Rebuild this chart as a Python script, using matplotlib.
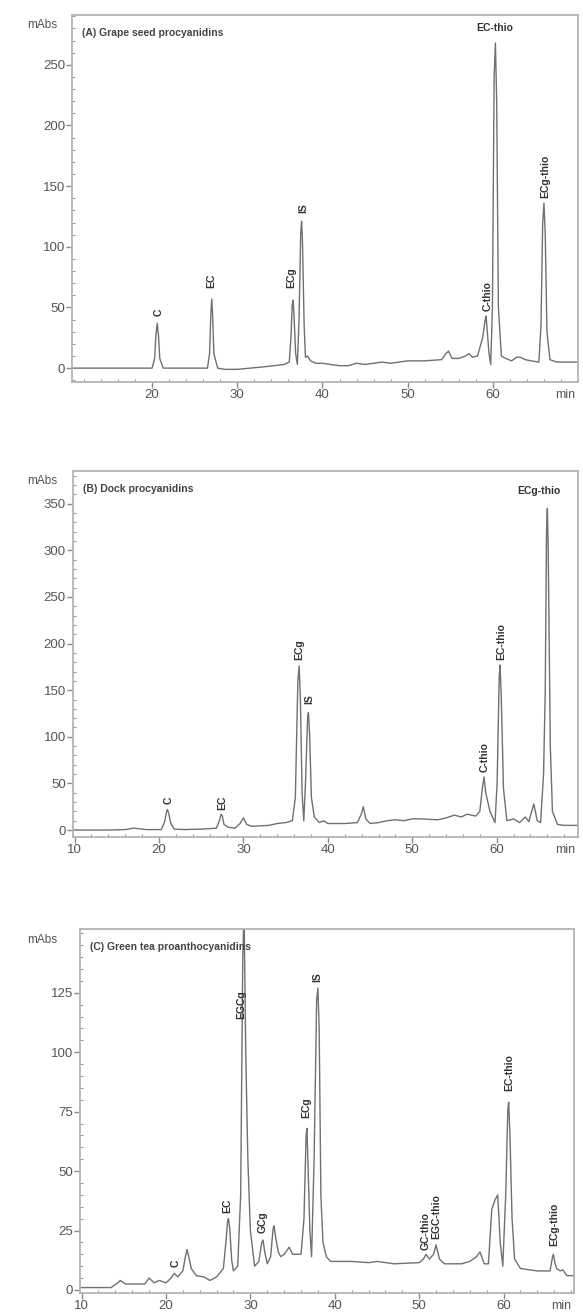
import matplotlib
matplotlib.use("Agg")
import matplotlib.pyplot as plt
from matplotlib.ticker import MultipleLocator

plt.rcParams['font.family'] = ['Liberation Sans', 'DejaVu Sans']

# ------------------------------
# chromatogram traces: (time in min, mAbs)
trace_a = [(10.6, 0), (14, 0), (18, 0), (20.0, 0), (20.3, 8), (20.45, 27), (20.6, 37), (20.75, 27),
           (20.9, 8), (21.3, 0), (23, 0), (26.5, 0), (26.75, 12), (26.9, 45), (27.0, 57), (27.1, 45),
           (27.25, 12), (27.7, 0), (28.5, -1), (30, -1), (33, 1), (35.5, 3), (36.1, 5), (36.3, 25),
           (36.45, 52), (36.55, 56), (36.65, 45), (36.85, 12), (37.05, 3), (37.25, 40), (37.45, 112),
           (37.55, 121), (37.65, 105), (37.85, 35), (38.0, 9), (38.25, 10), (38.6, 6), (39.2, 4),
           (40, 4), (41, 3), (42, 2), (43, 2), (44, 4), (45, 3), (46, 4), (47, 5), (48, 4), (50, 6),
           (52, 6), (54, 7), (54.5, 12), (54.8, 14), (55.2, 8), (56, 8), (56.8, 10), (57.2, 12),
           (57.6, 9), (58.2, 10), (58.8, 25), (59.1, 40), (59.2, 43), (59.35, 30), (59.55, 12),
           (59.75, 3), (59.95, 50), (60.15, 240), (60.3, 268), (60.45, 220), (60.65, 50), (61.0, 10),
           (61.5, 8), (62.2, 6), (62.8, 9), (63.2, 9), (63.8, 7), (64.5, 6), (65.4, 5), (65.65, 35),
           (65.85, 120), (66.0, 136), (66.15, 110), (66.35, 30), (66.7, 7), (67.5, 5), (70, 5)]

trace_b = [(9.8, 0), (14, 0), (16, 0.5), (17, 2), (18.5, 0.5), (20.3, 0.5), (20.7, 10), (20.9, 20),
           (21.0, 22), (21.15, 18), (21.4, 7), (21.8, 1), (23, 0.5), (25, 1), (26.8, 2), (27.15, 10),
           (27.35, 17), (27.5, 15), (27.7, 6), (28.2, 3), (29, 2), (29.6, 7), (30.0, 13), (30.4, 6),
           (31, 4), (33, 5), (34, 7), (35, 8), (35.8, 10), (36.15, 35), (36.45, 160), (36.6, 176),
           (36.75, 140), (36.95, 40), (37.15, 10), (37.35, 50), (37.6, 120), (37.7, 126),
           (37.85, 100), (38.05, 35), (38.4, 14), (39, 8), (39.5, 10), (40, 7), (42, 7), (43.5, 8),
           (44.0, 18), (44.2, 25), (44.5, 12), (45, 7), (46, 8), (47, 10), (48, 11), (49, 10),
           (50, 12), (51, 12), (53, 11), (54, 13), (55, 16), (55.8, 14), (56.5, 17), (57.5, 15),
           (58.0, 20), (58.3, 45), (58.5, 57), (58.7, 40), (59.2, 20), (59.8, 8), (60.05, 50),
           (60.3, 165), (60.4, 177), (60.55, 140), (60.8, 45), (61.2, 10), (62, 12), (62.7, 8),
           (63.4, 14), (63.8, 9), (64.4, 28), (64.8, 10), (65.2, 8), (65.55, 60), (65.75, 150),
           (65.9, 320), (66.0, 345), (66.1, 300), (66.35, 90), (66.6, 20), (67.2, 6), (68, 5),
           (69.6, 5)]

trace_c = [(9.8, 1), (13.5, 1), (14.3, 3), (14.6, 4), (15.2, 2.5), (16, 2.5), (17.5, 2.5), (18, 5),
           (18.6, 3), (19.2, 4), (20, 3), (20.6, 5), (21.0, 7), (21.4, 5.5), (22.0, 8), (22.3, 14),
           (22.5, 17), (22.7, 14), (23.0, 9), (23.6, 6), (24.5, 5.5), (25.2, 4), (26, 5.5), (26.8, 9),
           (27.1, 20), (27.3, 29), (27.4, 30), (27.55, 26), (27.8, 12), (28.0, 8), (28.5, 10),
           (28.85, 40), (29.1, 140), (29.25, 160), (29.45, 100), (29.7, 55), (30.0, 25), (30.5, 10),
           (31.0, 12), (31.35, 20), (31.5, 21), (31.7, 16), (32.0, 11), (32.4, 14), (32.7, 26),
           (32.8, 27), (33.0, 22), (33.3, 16), (33.6, 14), (34.0, 15), (34.6, 18), (35.0, 15),
           (36.0, 15), (36.35, 30), (36.6, 65), (36.7, 68), (36.85, 50), (37.05, 25), (37.25, 14),
           (37.55, 55), (37.85, 122), (38.0, 127), (38.15, 110), (38.35, 40), (38.6, 20), (39.0, 14),
           (39.5, 12), (42, 12), (44, 11.5), (45, 12), (47, 11), (50, 11.5), (50.5, 13), (50.8, 15),
           (51.2, 13), (51.7, 15), (52.0, 19), (52.4, 13), (53, 11), (55, 11), (56, 12), (56.8, 14),
           (57.2, 16), (57.7, 11), (58.2, 11), (58.6, 34), (59.0, 38), (59.3, 40), (59.6, 20),
           (59.9, 10), (60.25, 40), (60.5, 76), (60.6, 79), (60.75, 65), (61.0, 30), (61.3, 13),
           (62, 9), (64, 8), (65.5, 8), (65.8, 14), (65.9, 15), (66.1, 11), (66.3, 9), (66.7, 8),
           (67.0, 8.5), (67.5, 6), (68.3, 6)]

# peak labels: (name, time, y of label foot, rotated)
labels_a = [("C", 20.8, 43, True), ("EC", 27.0, 66, True), ("ECg", 36.3, 66, True),
            ("IS", 37.7, 128, True), ("C-thio", 59.4, 47, True), ("EC-thio", 60.2, 280, False),
            ("ECg-thio", 66.1, 140, True)]
labels_b = [("C", 21.2, 28, True), ("EC", 27.5, 21, True), ("ECg", 36.6, 182, True),
            ("IS", 37.8, 135, True), ("C-thio", 58.6, 62, True), ("EC-thio", 60.5, 182, True),
            ("ECg-thio", 65.0, 364, False)]
labels_c = [("C", 21.2, 9.5, True), ("EC", 27.3, 32.5, True), ("EGCg", 28.9, 114, True),
            ("GCg", 31.4, 24, True), ("ECg", 36.6, 72.5, True), ("IS", 37.9, 129.5, True),
            ("GC-thio", 50.8, 17, True), ("EGC-thio", 52.0, 21.5, True), ("EC-thio", 60.7, 83.5, True),
            ("ECg-thio", 66.0, 18.5, True)]

titles = ["(A) Grape seed procyanidins", "(B) Dock procyanidins", "(C) Green tea proanthocyanidins"]
xticks_a = [20, 30, 40, 50, 60]
xticks_bc = [10, 20, 30, 40, 50, 60]
yticks_a = [0, 50, 100, 150, 200, 250]
yticks_b = [0, 50, 100, 150, 200, 250, 300, 350]
yticks_c = [0, 25, 50, 75, 100, 125]

# ------------------------------
def draw_panel(ax, trace, labels, title, xlim, ylim, xticks, yticks, yminor, mabs_x):
    t = [p[0] for p in trace]
    v = [p[1] for p in trace]
    ax.plot(t, v, color='#707070', lw=1.0)
    ax.set_xlim(*xlim)
    ax.set_ylim(*ylim)
    ax.set_xticks(xticks)
    ax.set_yticks(yticks)
    ax.xaxis.set_minor_locator(MultipleLocator(2))
    ax.yaxis.set_minor_locator(MultipleLocator(yminor))
    for s in ax.spines.values():
        s.set_color('#b4b4b4')
        s.set_linewidth(1.3)
    ax.tick_params(which='major', direction='out', length=4, width=1, color='#8a8a8a',
                   labelsize=9.5, labelcolor='#555555', pad=1)
    ax.tick_params(which='minor', direction='in', length=2, width=0.8, color='#9a9a9a')
    ax.text(0.02, 0.965, title, transform=ax.transAxes, fontsize=7.5, fontweight='bold',
            color='#444444', va='top', ha='left')
    ax.text(mabs_x, 0.972, "mAbs", transform=ax.transAxes, fontsize=8.5, color='#555555',
            va='center', ha='right')
    ax.annotate("min", xy=(0.975, 0), xycoords='axes fraction', xytext=(0, -5),
                textcoords='offset points', fontsize=9, color='#555555', va='top', ha='center')
    for name, x, y, rot in labels:
        if rot:
            ax.text(x, y, name, rotation=90, fontsize=7.5, fontweight='bold', color='#333333',
                    ha='center', va='bottom')
        else:
            ax.text(x, y, name, fontsize=7.5, fontweight='bold', color='#333333',
                    ha='center', va='center')


fig = plt.figure(figsize=(5.83, 13.13), dpi=100)
ax_a = fig.add_axes([0.1235, 0.709, 0.868, 0.2795])
ax_b = fig.add_axes([0.125, 0.3625, 0.866, 0.2787])
ax_c = fig.add_axes([0.137, 0.0152, 0.847, 0.277])

draw_panel(ax_a, trace_a, labels_a, titles[0], (10.6, 70), (-11.5, 291), xticks_a, yticks_a, 10, -0.03)
draw_panel(ax_b, trace_b, labels_b, titles[1], (9.8, 69.6), (-7.5, 385), xticks_bc, yticks_b, 10, -0.03)
draw_panel(ax_c, trace_c, labels_c, titles[2], (9.8, 68.3), (-1.3, 151.7), xticks_bc, yticks_c, 5, -0.045)

plt.savefig("out.png", dpi=100)
